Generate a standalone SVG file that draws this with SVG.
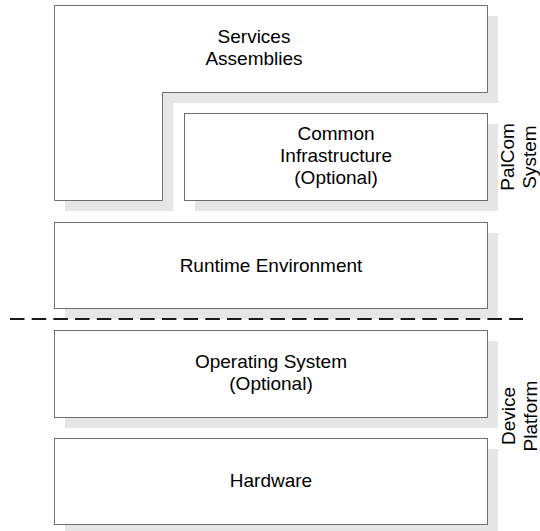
<svg xmlns="http://www.w3.org/2000/svg" width="540" height="531" viewBox="0 0 540 531">
  <style>
    .shadow { fill: #e6e6e6; stroke: none; }
    .box { fill: #ffffff; stroke: #6e6e6e; stroke-width: 1; }
    .lbl { font-family: "Liberation Sans", Arial, sans-serif; font-size: 19px; fill: #000000; text-anchor: middle; }
    .sep { stroke: #1a1a1a; stroke-width: 2; stroke-dasharray: 14.5 7.2; fill: none; }
  </style>
  <rect width="540" height="531" fill="#ffffff"/>

  <!-- Services / Assemblies: L-shaped layer -->
  <g id="services-assemblies">
    <path class="shadow" d="M65,16 H498 V103 H173.5 V211 H65 Z"/>
    <path class="box" d="M54.5,5.5 H487.5 V92.5 H162.5 V200.5 H54.5 Z"/>
    <text class="lbl" x="254" y="43">Services</text>
    <text class="lbl" x="254" y="65">Assemblies</text>
  </g>

  <!-- Common Infrastructure -->
  <g id="common-infrastructure">
    <rect class="shadow" x="195" y="124" width="303" height="87"/>
    <rect class="box" x="184.5" y="113.5" width="303" height="87"/>
    <text class="lbl" x="336" y="140">Common</text>
    <text class="lbl" x="336" y="162">Infrastructure</text>
    <text class="lbl" x="336" y="184">(Optional)</text>
  </g>

  <!-- Runtime Environment -->
  <g id="runtime-environment">
    <rect class="shadow" x="65" y="233" width="433" height="86"/>
    <rect class="box" x="54.5" y="222.5" width="433" height="86"/>
    <text class="lbl" x="271" y="272">Runtime Environment</text>
  </g>

  <!-- Operating System -->
  <g id="operating-system">
    <rect class="shadow" x="65" y="341" width="433" height="87"/>
    <rect class="box" x="54.5" y="330.5" width="433" height="87"/>
    <text class="lbl" x="271" y="368">Operating System</text>
    <text class="lbl" x="271" y="390">(Optional)</text>
  </g>

  <!-- Hardware -->
  <g id="hardware">
    <rect class="shadow" x="65" y="449" width="433" height="87"/>
    <rect class="box" x="54.5" y="438.5" width="433" height="86"/>
    <text class="lbl" x="271" y="487">Hardware</text>
  </g>

  <!-- separator between system and platform layers -->
  <g id="connectors">
    <line class="sep" x1="10" y1="319" x2="523" y2="319"/>
  </g>

  <!-- side group labels -->
  <g id="palcom-system">
    <text class="lbl" transform="translate(514,157) rotate(-90)">PalCom</text>
    <text class="lbl" transform="translate(536,157) rotate(-90)">System</text>
  </g>
  <g id="device-platform">
    <text class="lbl" transform="translate(514.5,416) rotate(-90)">Device</text>
    <text class="lbl" transform="translate(536.5,416) rotate(-90)">Platform</text>
  </g>
</svg>
